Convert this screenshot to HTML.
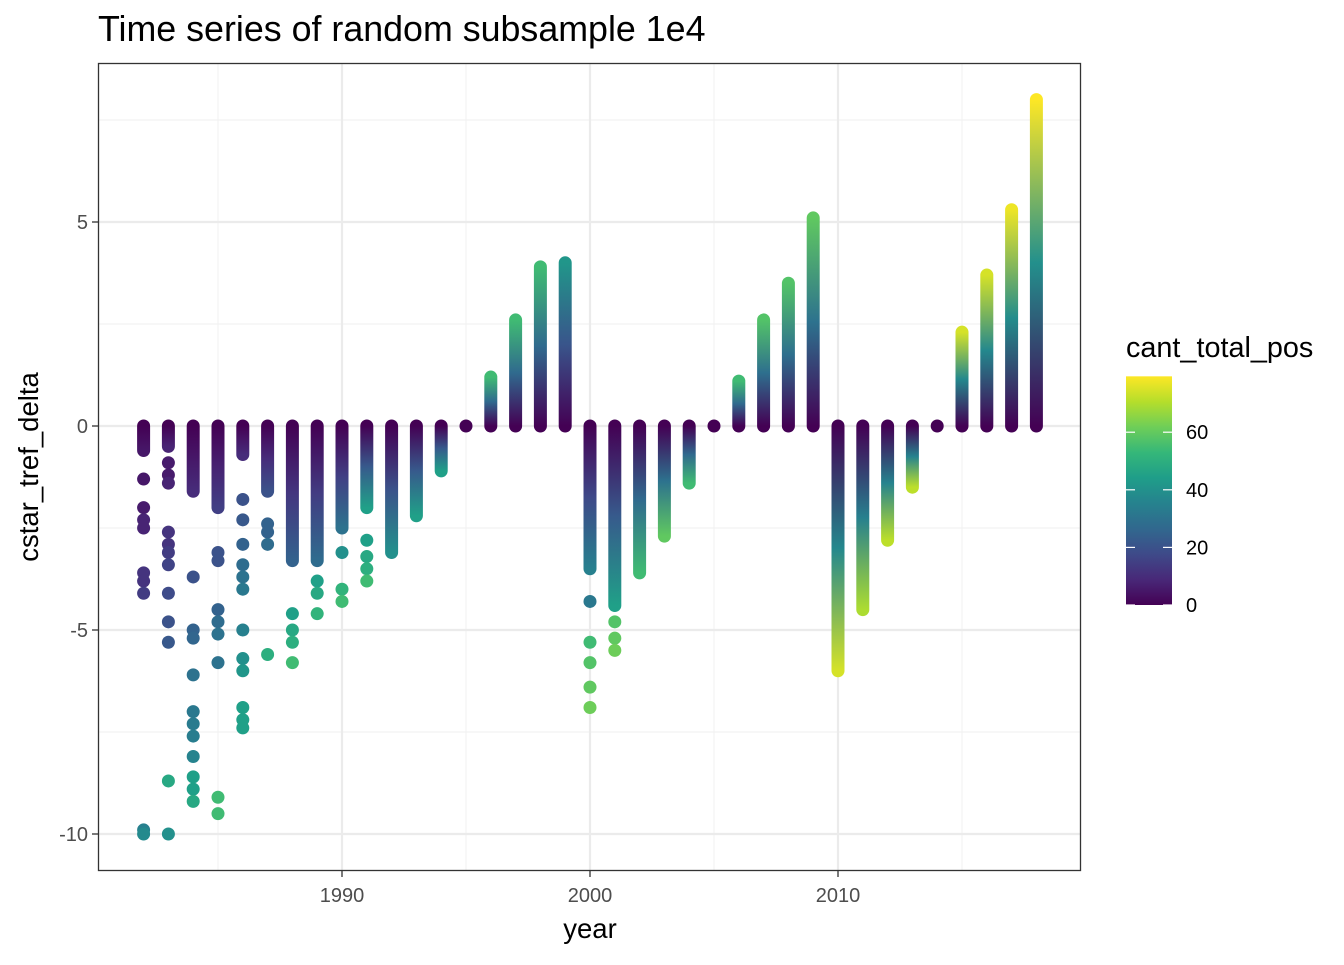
<!DOCTYPE html>
<html><head><meta charset="utf-8"><style>
body{margin:0;background:#fff;}
svg text{font-family:"Liberation Sans",sans-serif;}
</style></head><body>
<svg id="chart" width="1344" height="960" viewBox="0 0 1344 960" xmlns="http://www.w3.org/2000/svg">
<defs id="defs"></defs>
<text x="98" y="41" font-size="35.8" fill="#000">Time series of random subsample 1e4</text>
<g id="grid"></g>
<g id="marks"></g>
<rect x="98.5" y="63.5" width="982" height="807" fill="none" stroke="#333" stroke-width="1.3"/>
<g id="axes"></g>
<text x="590" y="938" font-size="27.5" text-anchor="middle">year</text>
<text transform="translate(38,467) rotate(-90)" font-size="27.5" text-anchor="middle">cstar_tref_delta</text>
<text x="1126" y="357" font-size="28.8">cant_total_pos</text>
<g id="legend"></g>
</svg>
<script>
const years=[1982,1983,1984,1985,1986,1987,1988,1989,1990,1991,1992,1993,1994,1995,1996,1997,1998,1999,2000,2001,2002,2003,2004,2005,2006,2007,2008,2009,2010,2011,2012,2013,2014,2015,2016,2017,2018];
const denseExt=[-0.6,-0.5,-1.6,-2.0,-0.7,-1.6,-3.3,-3.3,-2.5,-2.0,-3.1,-2.2,-1.1,0,1.2,2.6,3.9,4.0,-3.5,-4.4,-3.6,-2.7,-1.4,0,1.1,2.6,3.5,5.1,-6.0,-4.5,-2.8,-1.5,0,2.3,3.7,5.3,8.0];
const denseCol=[5,8,10,15,10,20,25,28,30,45,40,45,45,0,55,55,55,42,35,45,55,60,55,0,55,58,58,60,75,70,72,72,0,75,75,78,80];
const outYears=[1982,1983,1984,1985,1986,1987,1988,1989,1990,1991,2000,2001];
const outVals=[
 [-1.3,-2.0,-2.3,-2.5,-3.6,-3.8,-4.1,-9.9,-10.0],
 [-0.9,-1.2,-1.4,-2.6,-2.9,-3.1,-3.4,-4.1,-4.8,-5.3,-8.7,-10.0],
 [-3.7,-5.0,-5.2,-6.1,-7.0,-7.3,-7.6,-8.1,-8.6,-8.9,-9.2],
 [-3.1,-3.3,-4.5,-4.8,-5.1,-5.8,-9.1,-9.5],
 [-1.8,-2.3,-2.9,-3.4,-3.7,-4.0,-5.0,-5.7,-6.0,-6.9,-7.2,-7.4],
 [-2.4,-2.6,-2.9,-5.6],
 [-4.6,-5.0,-5.3,-5.8],
 [-3.8,-4.1,-4.6],
 [-3.1,-4.0,-4.3],
 [-2.8,-3.2,-3.5,-3.8],
 [-4.3,-5.3,-5.8,-6.4,-6.9],
 [-4.8,-5.2,-5.5]];
const outCols=[
 [5,6,8,8,12,12,14,35,38],
 [6,6,8,12,12,14,16,18,20,22,48,40],
 [20,25,26,30,32,33,34,36,45,45,48],
 [20,20,25,28,30,30,55,55],
 [20,22,25,28,30,32,35,40,42,45,45,45],
 [25,25,28,50],
 [45,48,50,55],
 [45,48,52],
 [40,52,55],
 [45,48,50,55],
 [32,55,58,60,62],
 [58,60,62]];
const yTicks=[-10,-5,0,5];
const xTicks=[1990,2000,2010];
const legTicks=[0,20,40,60];
const legMax=79.4;

const NS="http://www.w3.org/2000/svg";
const xS=y=>590+(y-2000)*24.8;
const yS=v=>426-v*40.8;
const stops=["#440154","#482878","#3e4a89","#31688e","#26828e","#1f9e89","#35b779","#6ece58","#b5de2b","#fde725"];
function vir(c){let t=Math.max(0,Math.min(1,c/80))*(stops.length-1);let i=Math.min(Math.floor(t),stops.length-2),f=t-i;
 const a=stops[i],b=stops[i+1];const p=(s,k)=>parseInt(s.substr(1+2*k,2),16);
 return "rgb("+[0,1,2].map(k=>Math.round(p(a,k)+(p(b,k)-p(a,k))*f)).join(",")+")";}
function el(tag,attrs,parent){const e=document.createElementNS(NS,tag);for(const k in attrs)e.setAttribute(k,attrs[k]);parent.appendChild(e);return e;}
const grid=document.getElementById('grid'),marks=document.getElementById('marks'),axes=document.getElementById('axes'),defs=document.getElementById('defs'),leg=document.getElementById('legend');
el('rect',{x:98.5,y:63.5,width:982,height:807,fill:'#fff'},grid);
[1985,1995,2005,2015].forEach(y=>el('line',{x1:xS(y),x2:xS(y),y1:64,y2:870,stroke:'#f2f2f2','stroke-width':1.2},grid));
[-7.5,-2.5,2.5,7.5].forEach(v=>el('line',{x1:99,x2:1080,y1:yS(v),y2:yS(v),stroke:'#f2f2f2','stroke-width':1.2},grid));
xTicks.forEach(y=>el('line',{x1:xS(y),x2:xS(y),y1:64,y2:870,stroke:'#ebebeb','stroke-width':2.2},grid));
yTicks.forEach(v=>el('line',{x1:99,x2:1080,y1:yS(v),y2:yS(v),stroke:'#ebebeb','stroke-width':2.2},grid));
years.forEach((yr,i)=>{
 const x=xS(yr),v=denseExt[i];
 if(v===0){const c=el('circle',{cx:x,cy:yS(0),r:6.5,fill:vir(0)},marks);return;}
 const g=el('linearGradient',{id:'g'+i,gradientUnits:'userSpaceOnUse',x1:0,y1:yS(0),x2:0,y2:yS(v)},defs);
 el('stop',{offset:0,'stop-color':vir(0)},g);el('stop',{offset:0.5,'stop-color':vir(denseCol[i]*0.5)},g);el('stop',{offset:1,'stop-color':vir(denseCol[i])},g);
 const l=el('line',{x1:x,x2:x,y1:yS(0),y2:yS(v),stroke:'url(#g'+i+')','stroke-width':13,'stroke-linecap':'round'},marks);
 
 
});
outYears.forEach((yr,j)=>{
 outVals[j].forEach((v,k)=>{
  const c=el('circle',{cx:xS(yr),cy:yS(v),r:6.5,fill:vir(outCols[j][k])},marks);
  
  
 });
});
yTicks.forEach(v=>{el('line',{x1:92,x2:98,y1:yS(v),y2:yS(v),stroke:'#333','stroke-width':1.3},axes);
 const t=el('text',{x:88,y:yS(v)+7,'font-size':20,fill:'#4d4d4d','text-anchor':'end'},axes);t.textContent=v;
 });
xTicks.forEach(y=>{el('line',{x1:xS(y),x2:xS(y),y1:871,y2:877,stroke:'#333','stroke-width':1.3},axes);
 const t=el('text',{x:xS(y),y:902,'font-size':20,fill:'#4d4d4d','text-anchor':'middle'},axes);t.textContent=y;
 });
const lg=el('linearGradient',{id:'lg',x1:0,y1:1,x2:0,y2:0},defs);
stops.forEach((s,i)=>el('stop',{offset:i/(stops.length-1),'stop-color':s},lg));
const L0=605,LP=2.88;
el('rect',{x:1126,y:L0-legMax*LP,width:46,height:legMax*LP,fill:'url(#lg)'},leg);
legTicks.forEach(v=>{const y=L0-v*LP;
 el('line',{x1:1126,x2:1135,y1:y,y2:y,stroke:'#fff','stroke-width':1.2},leg);
 el('line',{x1:1163,x2:1172,y1:y,y2:y,stroke:'#fff','stroke-width':1.2},leg);
 const t=el('text',{x:1186,y:y+7,'font-size':20,fill:'#000'},leg);t.textContent=v;
 });
</script>
</body></html>
